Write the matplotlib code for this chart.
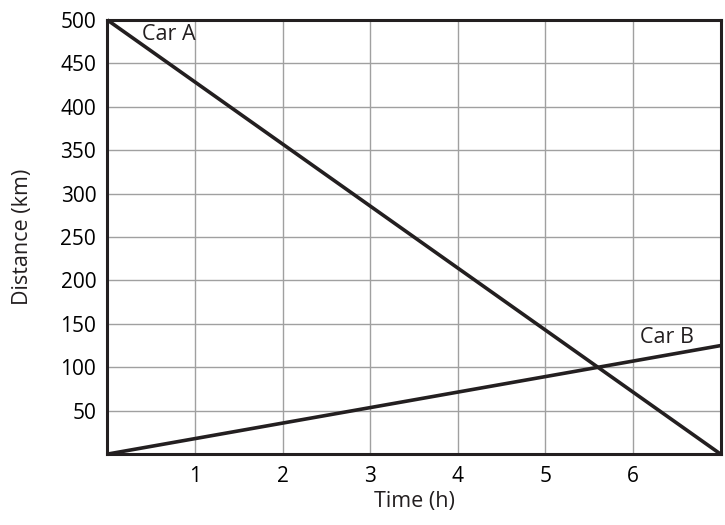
import matplotlib
matplotlib.use("Agg")
import matplotlib.pyplot as plt

time_a = [0, 7]
dist_a = [500, 0]
time_b = [0, 7]
dist_b = [0, 125]
xticks = [1, 2, 3, 4, 5, 6]
yticks = [50, 100, 150, 200, 250, 300, 350, 400, 450, 500]

plt.rcParams['font.family'] = ['Open Sans', 'DejaVu Sans']
fig = plt.figure(figsize=(7.25, 5.25), dpi=100)
ax = fig.add_axes([0.148, 0.135, 0.846, 0.827])
ax.set_xlim(0, 7)
ax.set_ylim(0, 500)
ax.set_xticks(xticks)
ax.set_yticks(yticks)
ax.set_xticklabels([str(t) for t in xticks], fontsize=15)
ax.set_yticklabels([str(t) for t in yticks], fontsize=15)
ax.tick_params(axis='y', length=0, pad=8)
ax.tick_params(axis='x', length=0, pad=8.5)
ax.grid(True, color='#a0a0a0', linewidth=1)
ax.set_axisbelow(True)
for s in ax.spines.values():
    s.set_linewidth(2.2)
    s.set_color('#231f20')
ax.plot(time_a, dist_a, color='#231f20', linewidth=2.6, solid_capstyle='butt', clip_on=False)
ax.plot(time_b, dist_b, color='#231f20', linewidth=2.6, solid_capstyle='butt', clip_on=False)
ax.text(0.4, 483, 'Car A', fontsize=15.5, va='center', ha='left', color='#231f20')
ax.text(6.08, 134, 'Car B', fontsize=15.5, va='center', ha='left', color='#231f20')
ax.set_xlabel('Time (h)', fontsize=15.5, labelpad=3, color='#231f20')
ax.set_ylabel('Distance (km)', fontsize=15.5, labelpad=20, color='#231f20')
fig.savefig('out.png', dpi=100)
